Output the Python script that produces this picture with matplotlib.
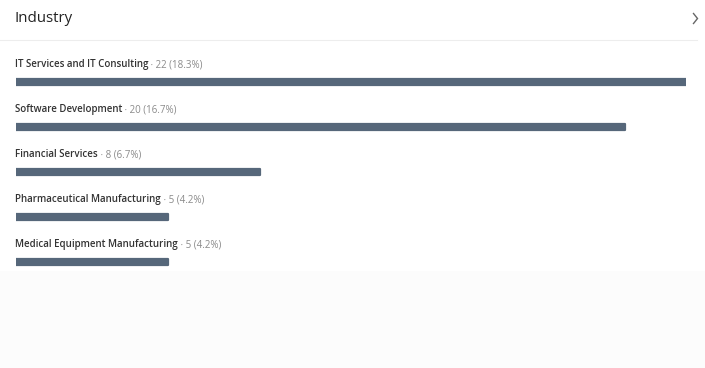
import matplotlib
matplotlib.use("Agg")
import matplotlib.pyplot as plt
from matplotlib.patches import Rectangle
from matplotlib.lines import Line2D

plt.rcParams['font.family'] = ['Open Sans', 'DejaVu Sans']

# Data
industries = [
    "IT Services and IT Consulting",
    "Software Development",
    "Financial Services",
    "Pharmaceutical Manufacturing",
    "Medical Equipment Manufacturing",
]
counts = [22, 20, 8, 5, 5]
percents = [18.3, 16.7, 6.7, 4.2, 4.2]

W, H = 705, 368
DPI = 100
fig = plt.figure(figsize=(W / DPI, H / DPI), dpi=DPI, facecolor="white")

def px(x, y):
    """Figure-pixel position (from top-left) to figure fraction."""
    return x / W, 1 - y / H

# Faint footer band
fig.patches.append(Rectangle((0, 0), 1, 1 - 271 / H, transform=fig.transFigure,
                             facecolor="#fcfcfc", edgecolor="none", zorder=0))

# Header
fig.text(*px(15, 19), "Industry", fontsize=10.8, color="#222222",
         ha="left", va="center")
fig.lines.append(Line2D([0, 697 / W], [1 - 40 / H] * 2, transform=fig.transFigure,
                        color="#ededed", linewidth=0.8))
# Close chevron (partly off the edge)
cx = [693.5, 697.5, 693.5]
cy = [13.5, 18.5, 23.5]
fig.lines.append(Line2D([x / W for x in cx], [1 - y / H for y in cy],
                        transform=fig.transFigure, color="#666666",
                        linewidth=1.0, solid_joinstyle="miter"))

# Bar axes: x spans bar track, y in category units
left_px, right_px = 16, 686
ax = fig.add_axes([left_px / W, 0, (right_px - left_px) / W, 1])
ax.set_xlim(0, max(counts))
unit = 44.9           # pixels per category row
first = 82.0          # pixel centre of the first bar
ax.set_ylim((H - first) / unit, -first / unit)
ax.axis("off")

bar_h = 6.0 / unit
ypos = list(range(len(industries)))
bar_color = "#56677a"
ax.barh(ypos, counts, height=bar_h, left=0, color=bar_color,
        edgecolor=bar_color, linewidth=1.6, joinstyle="round")

label_off = 17.0 / unit
for i, (name, n, p) in enumerate(zip(industries, counts, percents)):
    t = ax.annotate(name, xy=(0, i - label_off), xytext=(-0.8, 0),
                    textcoords="offset points", fontsize=7,
                    fontweight="semibold", color="#333333",
                    ha="left", va="center")
    ax.annotate(f" · {n} ({p}%)", xy=(1, 0.5), xycoords=t,
                fontsize=7, color="#8a8a8a", ha="left", va="center")

fig.savefig("out.png", dpi=DPI, facecolor="white")
